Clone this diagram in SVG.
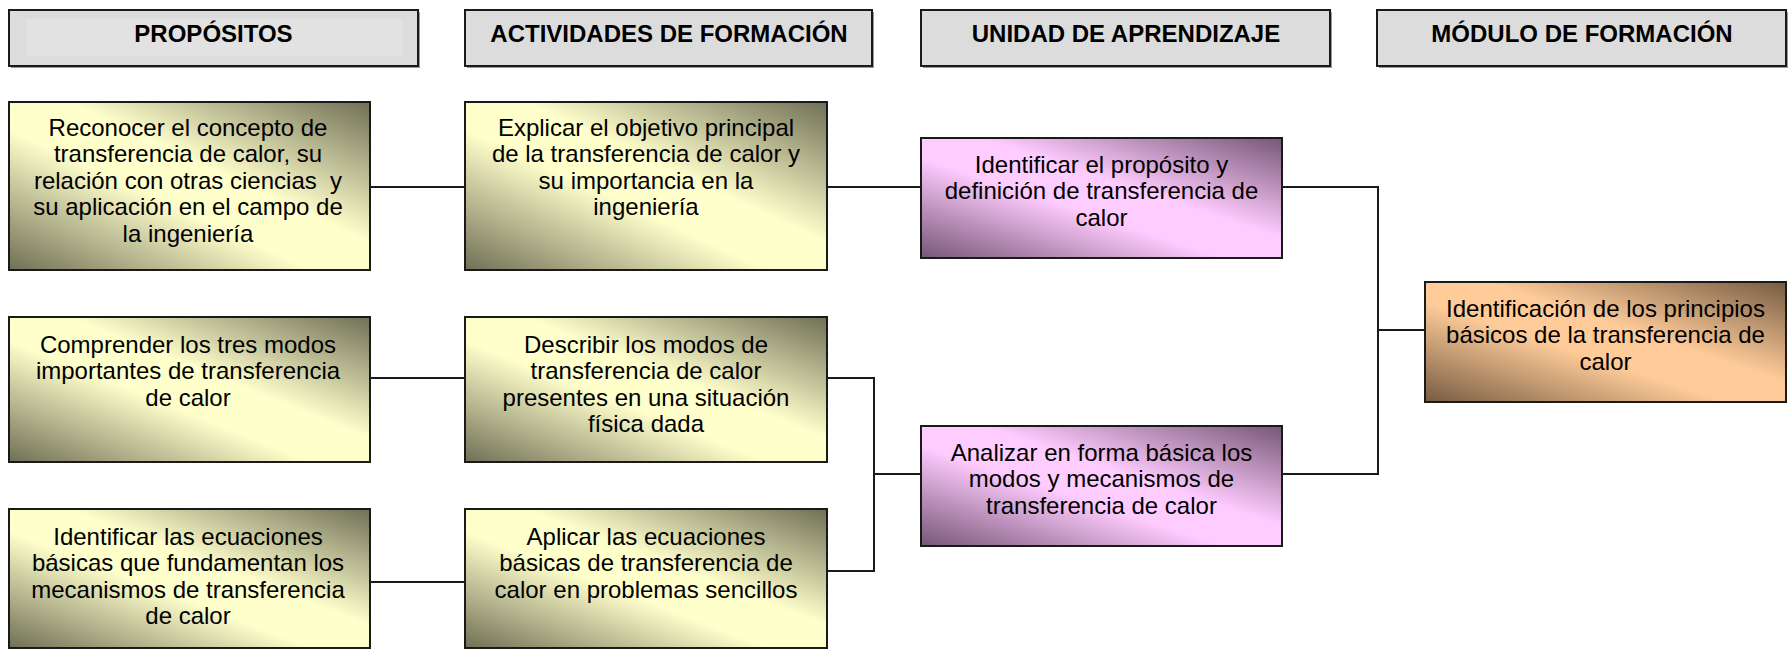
<svg xmlns="http://www.w3.org/2000/svg" width="1790" height="652" viewBox="0 0 1790 652">
<style>
text{font-family:"Liberation Sans",Arial,sans-serif;font-size:24px;fill:#000;text-anchor:middle;white-space:pre}
.hdr text{font-weight:bold}
.box{stroke:#1a1a1a;stroke-width:2}
.shadow{fill:#9a9a9a}
.hfill{fill:#dcdcdc}
.conn{fill:none;stroke:#1a1a1a;stroke-width:2}
</style>
<defs>
<linearGradient id="gy" x1="1" y1="0" x2="0" y2="1">
<stop offset="0" stop-color="#6f6f55"/>
<stop offset="0.42" stop-color="#ffffcc"/>
<stop offset="0.58" stop-color="#ffffcc"/>
<stop offset="1" stop-color="#6f6f55"/>
</linearGradient>
<linearGradient id="gp" x1="1" y1="0" x2="0" y2="1">
<stop offset="0" stop-color="#765676"/>
<stop offset="0.42" stop-color="#ffccff"/>
<stop offset="0.58" stop-color="#ffccff"/>
<stop offset="1" stop-color="#765676"/>
</linearGradient>
<linearGradient id="go" x1="1" y1="0" x2="0" y2="1">
<stop offset="0" stop-color="#765b42"/>
<stop offset="0.42" stop-color="#ffcc99"/>
<stop offset="0.58" stop-color="#ffcc99"/>
<stop offset="1" stop-color="#765b42"/>
</linearGradient>
</defs>

<g id="connectors">
<line class="conn" x1="370" y1="187" x2="465" y2="187"/>
<line class="conn" x1="827" y1="187" x2="921" y2="187"/>
<line class="conn" x1="370" y1="378" x2="465" y2="378"/>
<line class="conn" x1="370" y1="582" x2="465" y2="582"/>
<polyline class="conn" points="827,378 874,378 874,571 827,571"/>
<line class="conn" x1="874" y1="474" x2="921" y2="474"/>
<polyline class="conn" points="1282,187 1378,187 1378,474 1282,474"/>
<line class="conn" x1="1378" y1="330" x2="1425" y2="330"/>
</g>

<g id="h-propositos" class="hdr">
<rect class="shadow" x="11" y="12" width="409" height="56"/>
<rect class="box hfill" x="9" y="10" width="409" height="56"/>
<rect x="26" y="19" width="376" height="37" fill="#e2e2e2"/>
<text x="213.5" y="42">PROPÓSITOS</text>
</g>
<g id="h-actividades" class="hdr">
<rect class="shadow" x="467" y="12" width="407" height="56"/>
<rect class="box hfill" x="465" y="10" width="407" height="56"/>
<text x="669" y="42">ACTIVIDADES DE FORMACIÓN</text>
</g>
<g id="h-unidad" class="hdr">
<rect class="shadow" x="923" y="12" width="409" height="56"/>
<rect class="box hfill" x="921" y="10" width="409" height="56"/>
<text x="1126" y="42">UNIDAD DE APRENDIZAJE</text>
</g>
<g id="h-modulo" class="hdr">
<rect class="shadow" x="1379" y="12" width="409" height="56"/>
<rect class="box hfill" x="1377" y="10" width="409" height="56"/>
<text x="1582" y="42">MÓDULO DE FORMACIÓN</text>
</g>

<g id="p1">
<rect class="box" x="9" y="102" width="361" height="168" fill="url(#gy)"/>
<text><tspan x="188" y="135.5">Reconocer el concepto de</tspan><tspan x="188" y="162">transferencia de calor, su</tspan><tspan x="188" y="188.5">relación con otras ciencias  y</tspan><tspan x="188" y="215">su aplicación en el campo de</tspan><tspan x="188" y="241.5">la ingeniería</tspan></text>
</g>
<g id="a1">
<rect class="box" x="465" y="102" width="362" height="168" fill="url(#gy)"/>
<text><tspan x="646" y="135.5">Explicar el objetivo principal</tspan><tspan x="646" y="162">de la transferencia de calor y</tspan><tspan x="646" y="188.5">su importancia en la</tspan><tspan x="646" y="215">ingeniería</tspan></text>
</g>
<g id="u1">
<rect class="box" x="921" y="138" width="361" height="120" fill="url(#gp)"/>
<text><tspan x="1101.5" y="172.5">Identificar el propósito y</tspan><tspan x="1101.5" y="199">definición de transferencia de</tspan><tspan x="1101.5" y="225.5">calor</tspan></text>
</g>
<g id="p2">
<rect class="box" x="9" y="317" width="361" height="145" fill="url(#gy)"/>
<text><tspan x="188" y="352.5">Comprender los tres modos</tspan><tspan x="188" y="379">importantes de transferencia</tspan><tspan x="188" y="405.5">de calor</tspan></text>
</g>
<g id="a2">
<rect class="box" x="465" y="317" width="362" height="145" fill="url(#gy)"/>
<text><tspan x="646" y="352.5">Describir los modos de</tspan><tspan x="646" y="379">transferencia de calor</tspan><tspan x="646" y="405.5">presentes en una situación</tspan><tspan x="646" y="432">física dada</tspan></text>
</g>
<g id="u2">
<rect class="box" x="921" y="426" width="361" height="120" fill="url(#gp)"/>
<text><tspan x="1101.5" y="460.5">Analizar en forma básica los</tspan><tspan x="1101.5" y="487">modos y mecanismos de</tspan><tspan x="1101.5" y="513.5">transferencia de calor</tspan></text>
</g>
<g id="m1">
<rect class="box" x="1425" y="282" width="361" height="120" fill="url(#go)"/>
<text><tspan x="1605.5" y="316.5">Identificación de los principios</tspan><tspan x="1605.5" y="343">básicos de la transferencia de</tspan><tspan x="1605.5" y="369.5">calor</tspan></text>
</g>
<g id="p3">
<rect class="box" x="9" y="509" width="361" height="139" fill="url(#gy)"/>
<text><tspan x="188" y="544.5">Identificar las ecuaciones</tspan><tspan x="188" y="571">básicas que fundamentan los</tspan><tspan x="188" y="597.5">mecanismos de transferencia</tspan><tspan x="188" y="624">de calor</tspan></text>
</g>
<g id="a3">
<rect class="box" x="465" y="509" width="362" height="139" fill="url(#gy)"/>
<text><tspan x="646" y="544.5">Aplicar las ecuaciones</tspan><tspan x="646" y="571">básicas de transferencia de</tspan><tspan x="646" y="597.5">calor en problemas sencillos</tspan></text>
</g>
</svg>
